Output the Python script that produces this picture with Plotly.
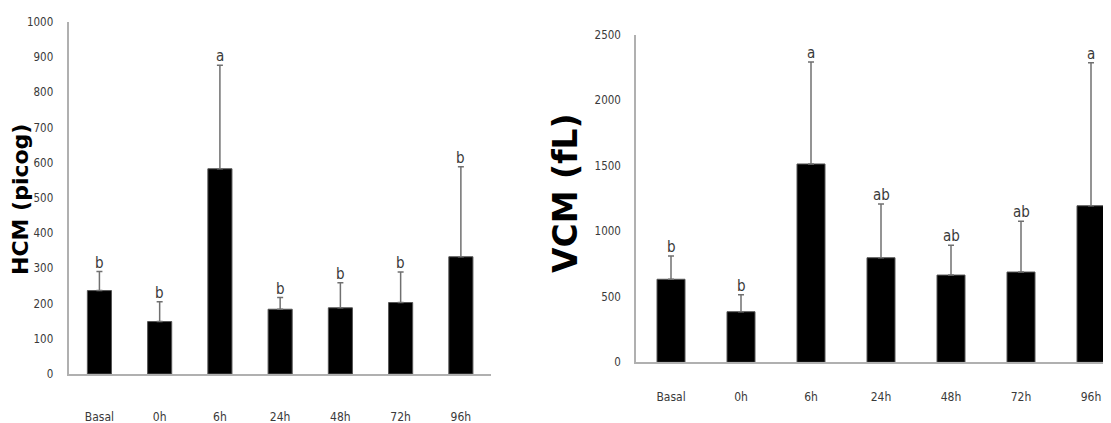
import plotly.graph_objects as go

categories = ["Basal", "0h", "6h", "24h", "48h", "72h", "96h"]

hcm_mean = [237, 149, 583, 184, 188, 203, 333]
hcm_sd = [54, 56, 294, 33, 71, 87, 256]
hcm_letters = ["b", "b", "a", "b", "b", "b", "b"]

vcm_mean = [634, 386, 1514, 798, 666, 689, 1195]
vcm_sd = [177, 130, 778, 410, 227, 387, 1092]
vcm_letters = ["b", "b", "a", "ab", "ab", "ab", "a"]

hcm_ticks = list(range(0, 1001, 100))
vcm_ticks = list(range(0, 2501, 500))

# the page body has an 8px default margin, so the figure is placed at (8, 8)
OFF = 8
W, H = 1111 - OFF, 423 - OFF
NARROW = "DejaVu Sans Condensed, Liberation Sans Narrow, sans-serif"
XTICK_FONT = dict(family=NARROW, size=12, color="#3a3a3a")
YTICK_FONT = dict(family=NARROW, size=11.5, color="#3a3a3a")
LETTER_FONT = dict(family=NARROW, size=15, color="#3a3a3a")
AXIS_COLOR = "#b0b0b0"


def px(x):
    return (x - OFF) / W


def py(y):
    return (H - (y - OFF)) / H


fig = go.Figure()

for mean, sd, xa, ya in [(hcm_mean, hcm_sd, "x", "y"), (vcm_mean, vcm_sd, "x2", "y2")]:
    fig.add_trace(go.Bar(
        x=categories, y=mean, xaxis=xa, yaxis=ya,
        width=0.4,
        marker=dict(color="black", line=dict(color="#555555", width=1)),
        error_y=dict(type="data", symmetric=False, array=sd, arrayminus=[0] * len(sd),
                     color="#707070", thickness=1.5, width=3),
        showlegend=False,
    ))

annotations = []
for mean, sd, letters, xr, yr in [(hcm_mean, hcm_sd, hcm_letters, "x", "y"),
                                  (vcm_mean, vcm_sd, vcm_letters, "x2", "y2")]:
    for c, m, s, l in zip(categories, mean, sd, letters):
        annotations.append(dict(x=c, y=m + s, xref=xr, yref=yr, text=l, showarrow=False,
                                xanchor="center", yanchor="bottom", yshift=-2, font=LETTER_FONT))

annotations.append(dict(x=px(21), y=py(200), xref="paper", yref="paper", text="<b>HCM (picog)</b>",
                        textangle=-90, showarrow=False, xanchor="center", yanchor="middle",
                        font=dict(family="DejaVu Sans, sans-serif", size=22, color="black")))
annotations.append(dict(x=px(565), y=py(193), xref="paper", yref="paper", text="<b>VCM (fL)</b>",
                        textangle=-90, showarrow=False, xanchor="center", yanchor="middle",
                        font=dict(family="DejaVu Sans, sans-serif", size=33, color="black")))

common_x = dict(type="category", showline=True, linecolor=AXIS_COLOR, linewidth=2, ticks="",
                showgrid=False, zeroline=False, tickfont=XTICK_FONT, automargin=False)
common_y = dict(showline=True, linecolor=AXIS_COLOR, linewidth=1.5, ticks="", showgrid=False,
                zeroline=False, tickfont=YTICK_FONT, automargin=False)

fig.update_layout(
    template="none",
    width=W, height=H,
    margin=dict(l=0, r=0, t=0, b=0, autoexpand=False),
    paper_bgcolor="white", plot_bgcolor="white",
    bargap=0.6,
    xaxis=dict(domain=[px(69.3), px(491)], range=[-0.5, 6.5], anchor="y",
               ticklabelstandoff=31, **common_x),
    yaxis=dict(domain=[py(374), py(22)], range=[0, 1000], tickvals=hcm_ticks, anchor="x",
               ticklabelstandoff=12, **common_y),
    xaxis2=dict(domain=[px(636), 1.0], range=[-0.5, -0.5 + (1111 - 636) / 70.0], anchor="y2",
                ticklabelstandoff=22, **common_x),
    yaxis2=dict(domain=[py(362.3), py(34.8)], range=[0, 2500], tickvals=vcm_ticks, anchor="x2",
                ticklabelstandoff=11, **common_y),
    annotations=annotations,
)

fig.write_html("out.html")
